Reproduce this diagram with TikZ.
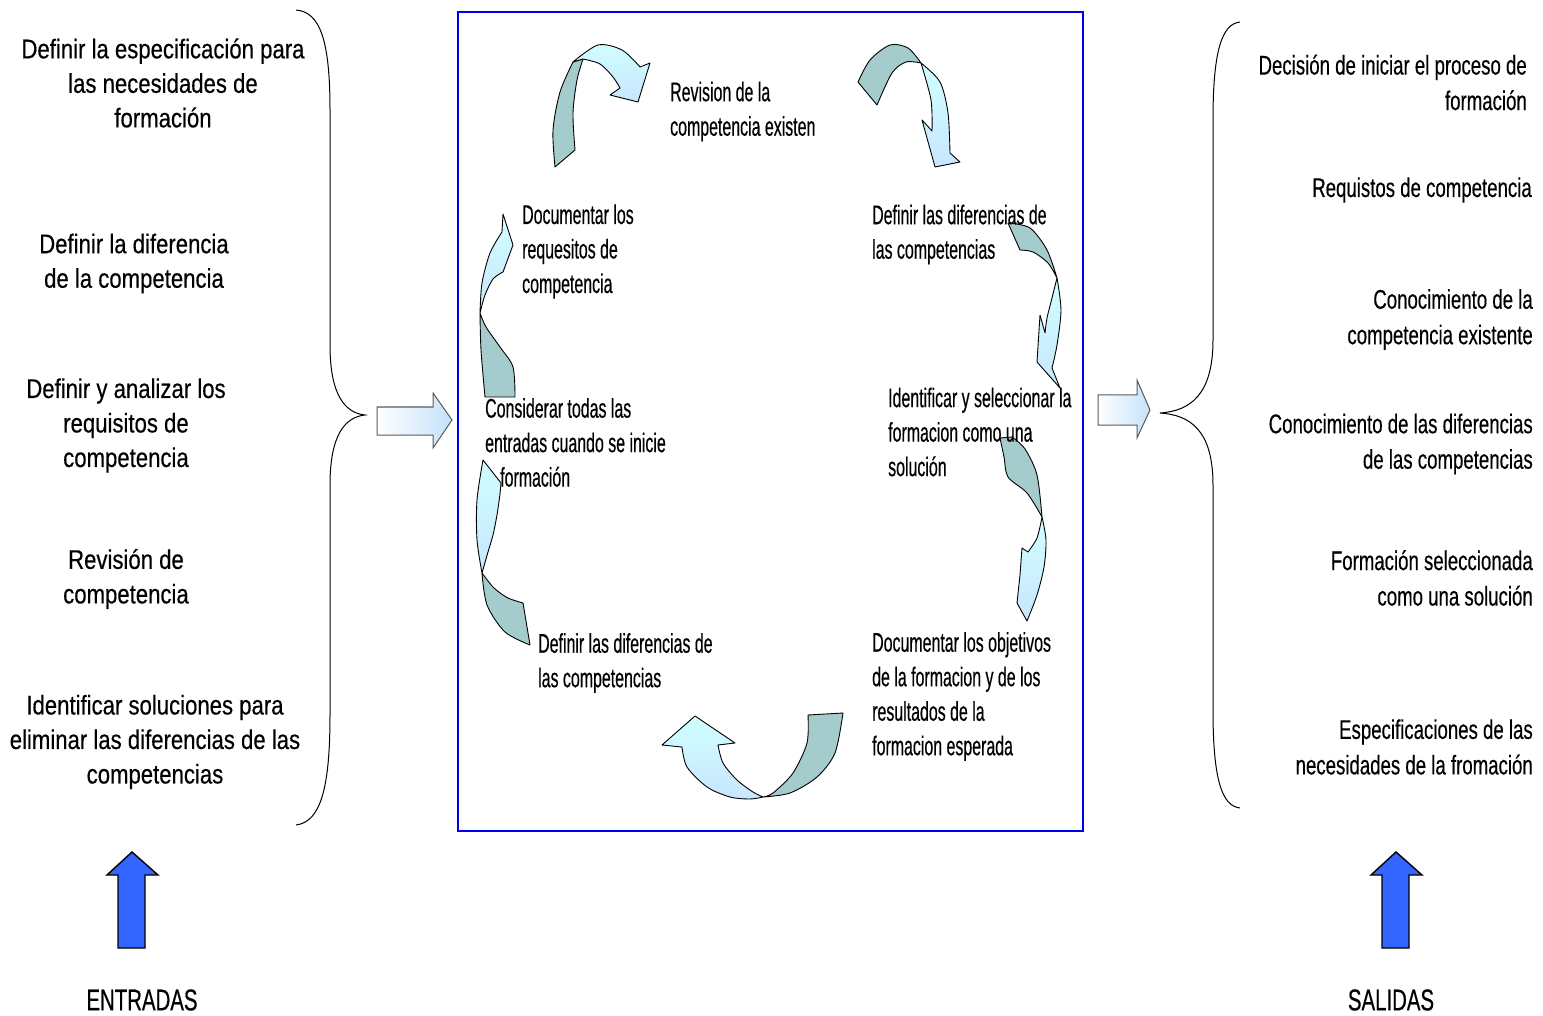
\documentclass[tikz,border=0pt]{standalone}
\usepackage{fontspec}
\setmainfont{Liberation Sans}
\newfontfamily\widefont[FakeStretch=0.82,FakeBold=0.4]{Liberation Sans}
\newfontfamily\midfont[FakeStretch=0.59,FakeBold=0.4]{Liberation Sans}
\newfontfamily\rightfont[FakeStretch=0.69,FakeBold=0.4]{Liberation Sans}
\newfontfamily\capfont[FakeStretch=0.68,FakeBold=0.4]{Liberation Sans}

\definecolor{ribbondark}{RGB}{164,204,204}
\definecolor{ribbonlightA}{RGB}{208,255,255}
\definecolor{ribbonlightB}{RGB}{200,230,255}
\definecolor{frameblue}{RGB}{0,0,235}
\definecolor{upblue}{RGB}{51,102,255}
\definecolor{blockedge}{RGB}{90,90,90}
\definecolor{blockfill}{RGB}{196,226,250}

\tikzset{
  dark/.style={fill=ribbondark, draw=black, line width=0.9pt, line join=round},
  light/.style={top color=ribbonlightA, bottom color=ribbonlightB, draw=black, line width=0.9pt, line join=round},
  blockarrow/.style={left color=white, right color=blockfill, draw=blockedge, line width=1pt},
  uparrow/.style={fill=upblue, draw=black, line width=1.4pt},
  bracestyle/.style={draw=black, line width=1pt},
  sidetext/.style={font=\widefont\fontsize{27}{34.5}\selectfont, align=center, inner sep=0pt},
  outtext/.style={font=\rightfont\fontsize{27}{35.5}\selectfont, align=right, inner sep=0pt, anchor=east},
  cycletext/.style={font=\midfont\fontsize{27}{34.5}\selectfont, align=left, inner sep=0pt, anchor=west},
  captext/.style={font=\capfont\fontsize{30}{34}\selectfont, inner sep=0pt}
}

\begin{document}
\begin{tikzpicture}[x=1pt,y=-1pt]
\useasboundingbox (0,0) rectangle (1543,1016);

% frame of the cycle
\draw[draw=frameblue, line width=1.6pt] (458,12) rectangle (1083,831);

% braces
\draw[bracestyle] (296,10) .. controls (320,12) and (330,40) .. (330,110)
  -- (330,345) .. controls (330,395) and (345,413) .. (365,415)
  .. controls (345,417) and (330,435) .. (330,485)
  -- (330,715) .. controls (330,790) and (320,822) .. (296,825);
\draw[bracestyle] (1240,22) .. controls (1222,24) and (1213,50) .. (1213,120)
  -- (1213,340) .. controls (1213,395) and (1190,411) .. (1160,413)
  .. controls (1190,415) and (1213,430) .. (1213,485)
  -- (1213,710) .. controls (1213,780) and (1222,806) .. (1240,808);

% block arrows into and out of the cycle
\path[blockarrow] (377,407) -- (433,407) -- (433,393) -- (452,420) -- (433,448) -- (433,435) -- (377,435) -- cycle;
\path[blockarrow] (1098,395) -- (1137,395) -- (1137,380) -- (1150,410) -- (1137,438) -- (1137,425) -- (1098,425) -- cycle;

% upward arrows
\path[uparrow] (118,948) -- (118,875) -- (107,875) -- (132,852) -- (158,875) -- (145,875) -- (145,948) -- cycle;
\path[uparrow] (1382,948) -- (1382,875) -- (1371,875) -- (1396,852) -- (1422,875) -- (1409,875) -- (1409,948) -- cycle;

% curved arrows of the cycle
% top left
\path[dark] plot[smooth] coordinates {(555,167) (553,130) (560,92) (573,62)} -- (583,59)
  -- plot[smooth] coordinates {(583,59) (577,80) (573,113) (575,150)} -- cycle;
\path[light] plot[smooth] coordinates {(573,62) (598,45) (622,50) (640,67)} -- (650,63) -- (638,102) -- (610,95) -- (620,88)
  -- plot[smooth] coordinates {(620,88) (613,77) (600,64) (583,59)} -- cycle;
% top right
\path[dark] plot[smooth] coordinates {(858,82) (870,60) (890,45) (908,48) (921,63)}
  -- plot[smooth] coordinates {(921,63) (906,62) (892,73) (877,105)} -- cycle;
\path[light] plot[smooth] coordinates {(921,63) (940,82) (948,113) (950,153)} -- (960,162) -- (935,167) -- (922,120) -- (932,131)
  -- plot[smooth] coordinates {(932,131) (931,100) (921,63)} -- cycle;
% right upper
\path[dark] plot[smooth] coordinates {(1008,223) (1030,228) (1047,250) (1057,278)}
  -- plot[smooth] coordinates {(1057,278) (1048,263) (1033,252) (1020,250)} -- cycle;
\path[light] plot[smooth] coordinates {(1057,278) (1052,298) (1047,318) (1045,333)} -- (1040,315) -- (1037,362) -- (1060,388) -- (1052,368)
  -- plot[smooth] coordinates {(1052,368) (1057,345) (1061,310) (1057,278)} -- cycle;
% right lower
\path[dark] (1000,438) -- plot[smooth] coordinates {(1012,437) (1025,449) (1037,475) (1042,517)}
  -- plot[smooth] coordinates {(1042,517) (1027,493) (1008,477) (1004,457) (1000,438)} -- cycle;
\path[light] plot[smooth] coordinates {(1042,517) (1037,538) (1028,552)} -- (1022,548) -- (1020,575) -- (1017,603) -- (1027,621)
  -- plot[smooth] coordinates {(1027,621) (1037,595) (1044,567) (1046,540) (1042,517)} -- cycle;
% bottom
\path[light] (662,745) -- (695,716) -- (735,743) -- (718,745)
  -- plot[smooth] coordinates {(718,745) (723,763) (737,780) (753,792) (763,797)}
  -- plot[smooth] coordinates {(763,797) (750,799) (730,797) (707,787) (687,767) (682,747)} -- cycle;
\path[dark] plot[smooth] coordinates {(763,797) (790,793) (817,777) (835,753) (843,713)} -- (808,715)
  -- plot[smooth] coordinates {(808,715) (807,743) (793,773) (773,793) (763,797)} -- cycle;
% left lower
\path[dark] plot[smooth] coordinates {(482,573) (487,605) (505,632) (530,645)} -- (523,603)
  -- plot[smooth] coordinates {(523,603) (508,598) (494,588) (482,573)} -- cycle;
\path[light] plot[smooth] coordinates {(482,573) (477,540) (477,500) (483,460)} -- (501,483) -- (500,494)
  -- plot[smooth] coordinates {(500,494) (497,515) (493,535) (488,552) (482,573)} -- cycle;
% left upper
\path[dark] plot[smooth] coordinates {(480,313) (481,350) (485,397)} -- (515,397)
  -- plot[smooth] coordinates {(515,397) (513,367) (500,347) (486,327) (480,313)} -- cycle;
\path[light] plot[smooth] coordinates {(480,313) (482,283) (490,253) (502,232)} -- (503,214) -- (513,245) -- (503,272)
  -- plot[smooth] coordinates {(503,272) (493,279) (485,295) (480,313)} -- cycle;

% inputs
\node[sidetext] (in1) at (163,83) {Definir la especificación para\\las necesidades de\\formación};
\node[sidetext] (in2) at (134,263.5) {Definir la diferencia\\de la competencia};
\node[sidetext] (in3) at (126,425.5) {Definir y analizar los\\requisitos de\\competencia};
\node[sidetext] (in4) at (126,579) {Revisión de\\competencia};
\node[sidetext] (in5) at (155,742) {Identificar soluciones para\\eliminar las diferencias de las\\competencias};

% outputs
\node[outtext] (out1) at (1527,82.5) {Decisión de iniciar el proceso de\\formación};
\node[outtext] (out2) at (1532,190) {Requistos de competencia};
\node[outtext] (out3) at (1533,319.5) {Conocimiento de la\\competencia existente};
\node[outtext] (out4) at (1533,444) {Conocimiento de las diferencias\\de las competencias};
\node[outtext] (out5) at (1533,578) {Formación seleccionada\\como una solución};
\node[outtext] (out6) at (1533,747) {Especificaciones de las\\necesidades de la fromación};

% steps of the cycle
\node[cycletext] (st1) at (670,111.5) {Revision de la\\competencia existen};
\node[cycletext] (st2) at (872,234.5) {Definir las diferencias de\\las competencias};
\node[cycletext] (st3) at (888,432) {Identificar y seleccionar la\\formacion como una\\solución};
\node[cycletext] (st4) at (872,696.5) {Documentar los objetivos\\de la formacion y de los\\resultados de la\\formacion esperada};
\node[cycletext] (st5) at (538,663) {Definir las diferencias de\\las competencias};
\node[cycletext] (st6) at (485,442.5) {Considerar todas las\\entradas cuando se inicie\\\hspace*{15pt}formación};
\node[cycletext] (st7) at (522,251.5) {Documentar los\\requesitos de\\competencia};

% captions
\node[captext] (entradas) at (142,1000) {ENTRADAS};
\node[captext] (salidas) at (1391,1000) {SALIDAS};
\end{tikzpicture}
\end{document}
